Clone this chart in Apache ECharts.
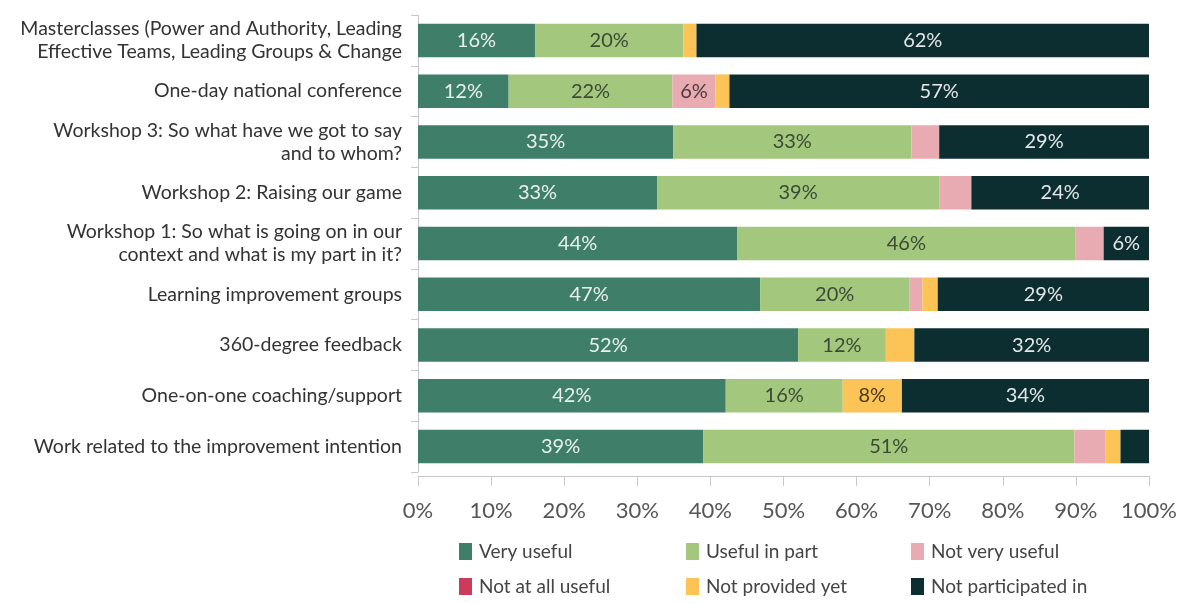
<!DOCTYPE html>
<html>
<head>
<meta charset="utf-8">
<script src="https://cdn.jsdelivr.net/npm/echarts@6/dist/echarts.min.js"></script>
<style>html,body{margin:0;padding:0;background:#fff}#c{width:1190px;height:603px}</style>
</head>
<body>
<div id="c"></div>
<script>
const categories = [
  'Masterclasses (Power and Authority, Leading\nEffective Teams, Leading Groups & Change',
  'One-day national conference',
  'Workshop 3: So what have we got to say\nand to whom?',
  'Workshop 2: Raising our game',
  'Workshop 1: So what is going on in our\ncontext and what is my part in it?',
  'Learning improvement groups',
  '360-degree feedback',
  'One-on-one coaching/support',
  'Work related to the improvement intention'
];
const seriesNames = ['Very useful','Useful in part','Not very useful','Not at all useful','Not provided yet','Not participated in'];
const veryUseful      = [16.0, 12.4, 34.9, 32.7, 43.7, 46.8, 52.0, 42.1, 39.0];
const usefulInPart    = [20.3, 22.4, 32.6, 38.6, 46.2, 20.4, 12.0, 16.0, 50.8];
const notVeryUseful   = [0,    5.9,  3.8,  4.4,  3.9,  1.8,  0,    0,    4.2];
const notAtAllUseful  = [0,    0,    0,    0,    0,    0,    0,    0,    0];
const notProvidedYet  = [1.8,  1.9,  0,    0,    0,    2.1,  3.9,  8.1,  2.1];
const notParticipated = [61.9, 57.4, 28.7, 24.3, 6.2,  28.9, 32.1, 33.8, 3.9];
const xTicks = ['0%','10%','20%','30%','40%','50%','60%','70%','80%','90%','100%'];

const values = [veryUseful, usefulInPart, notVeryUseful, notAtAllUseful, notProvidedYet, notParticipated];
const colors = ['#3f7f6a','#a3c87d','#e8abb1','#cc3b5c','#fcc456','#0c2e30'];
const labelColors = ['#e9f1ec','#3b4a35','#4a3a3c','#ffffff','#4a3a20','#e4e8e8'];
const FONT = 'Lato';

const series = seriesNames.map((name, i) => ({
  name: name,
  type: 'bar',
  stack: 'total',
  barWidth: '66%',
  itemStyle: {color: colors[i]},
  label: {
    show: true,
    position: 'inside',
    color: labelColors[i],
    fontFamily: FONT,
    fontSize: 20,
    formatter: p => p.value >= 5 ? Math.round(p.value) + '%' : ''
  },
  emphasis: {disabled: true},
  data: values[i].slice().reverse()
}));

const legendPos = [[454,537],[681,537],[906,537],[454,572],[681,572],[906,572]];
const legendOrder = [0,1,2,3,4,5];
const legends = legendOrder.map((si, k) => ({
  left: legendPos[k][0], top: legendPos[k][1],
  icon: 'rect',
  itemWidth: 13,
  itemHeight: 17,
  selectedMode: false,
  textStyle: {fontFamily: FONT, fontSize: 19, color: '#444', padding: [0,0,0,2]},
  data: [seriesNames[si]]
}));

const chart = echarts.init(document.getElementById('c'));
chart.setOption({
  animation: false,
  grid: {left: 418, right: 41, top: 15, bottom: 131},
  xAxis: {
    type: 'value',
    min: 0, max: 100, interval: 10,
    offset: 4,
    axisLine: {show: true, lineStyle: {color: '#c8c8c8', width: 1}},
    axisTick: {show: true, length: 10, lineStyle: {color: '#c8c8c8'}},
    splitLine: {show: false},
    axisLabel: {
      margin: 24,
      fontFamily: FONT, fontSize: 22, color: '#555',
      formatter: v => xTicks[Math.round(v / 10)]
    }
  },
  yAxis: {
    type: 'category',
    data: categories.slice().reverse(),
    axisLine: {show: true, lineStyle: {color: '#c8c8c8'}},
    axisTick: {show: true, length: 7, lineStyle: {color: '#c8c8c8'}},
    axisLabel: {
      margin: 16,
      fontFamily: FONT, fontSize: 19.5, color: '#333', lineHeight: 23, align: 'right'
    }
  },
  legend: legends,
  series: series
});
</script>
</body>
</html>
